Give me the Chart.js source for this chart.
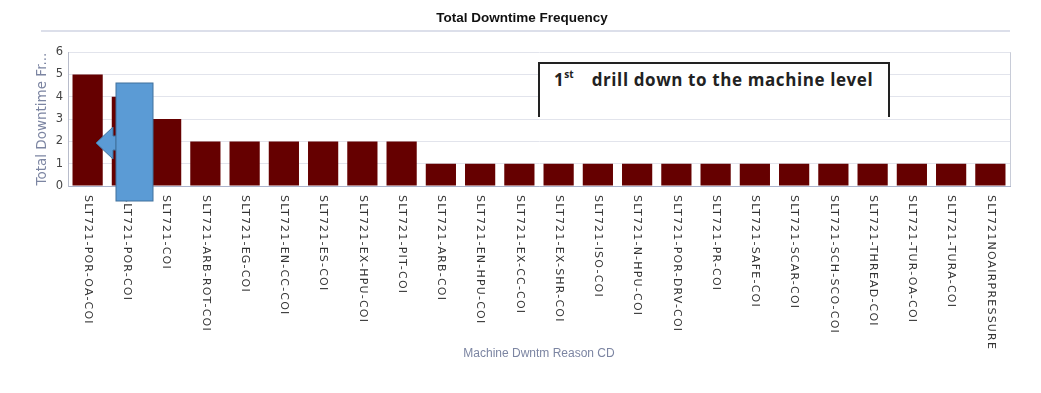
<!DOCTYPE html>
<html>
<head>
<meta charset="utf-8">
<script src="https://cdn.jsdelivr.net/npm/chart.js@4.4.1/dist/chart.umd.min.js"></script>
<style>
    body { margin: 0; background: #fff; }
    #wrap { position: relative; width: 1041px; height: 393px; }
    #rule { position: absolute; left: 41px; top: 30px; width: 969px; height: 2px; background: #dcdfea; }
    #note {
        position: absolute; left: 538px; top: 62px; width: 352px; height: 55px;
        border: 2px solid #222; border-bottom: none; background: #fff;
        font: bold 17px "Open Sans", sans-serif; color: #222;
        box-sizing: border-box; padding: 4px 0 0 14px; letter-spacing: 0.6px;
    }
    #note sup { font-size: 10px; position: relative; top: -1px; margin-right: 18px; letter-spacing: 0; }
    #arrow { position: absolute; left: 0; top: 0; }
</style>
</head>
<body>
<div id="wrap">
    <canvas id="chart" width="1041" height="393"></canvas>
    <div id="rule"></div>
    <div id="note">1<sup>st</sup>drill down to the machine level</div>
    <svg id="arrow" width="1041" height="393">
        <polygon points="116,136 113,136 113,127 96,143 113,159 113,150 116,150"
                 fill="#5b9bd5" stroke="#41719c" stroke-width="1"/>
        <rect x="116" y="83" width="37" height="118" fill="#5b9bd5" stroke="#41719c" stroke-width="1"/>
    </svg>
</div>
<script>
var categories = [
    'SLT721-POR-OA-COI', 'SLT721-POR-COI', 'SLT721-COI', 'SLT721-ARB-ROT-COI',
    'SLT721-EG-COI', 'SLT721-EN-CC-COI', 'SLT721-ES-COI', 'SLT721-EX-HPU-COI',
    'SLT721-PIT-COI', 'SLT721-ARB-COI', 'SLT721-EN-HPU-COI', 'SLT721-EX-CC-COI',
    'SLT721-EX-SHR-COI', 'SLT721-ISO-COI', 'SLT721-N-HPU-COI', 'SLT721-POR-DRV-COI',
    'SLT721-PR-COI', 'SLT721-SAFE-COI', 'SLT721-SCAR-COI', 'SLT721-SCH-SCO-COI',
    'SLT721-THREAD-COI', 'SLT721-TUR-OA-COI', 'SLT721-TURA-COI', 'SLT721NOAIRPRESSURE'
];
var downtimeCounts = [5, 4, 3, 2, 2, 2, 2, 2, 2, 1, 1, 1, 1, 1, 1, 1, 1, 1, 1, 1, 1, 1, 1, 1];
var yTicks = [0, 1, 2, 3, 4, 5, 6];

// x labels read top-to-bottom, so draw them ourselves at the scale's tick positions
var downLabels = {
    id: 'downLabels',
    afterDraw: function(chart) {
        var ctx = chart.ctx;
        var xs = chart.scales.x;
        var area = chart.chartArea;
        ctx.save();
        ctx.font = '11px "DejaVu Sans", sans-serif';
        ctx.fillStyle = '#333';
        ctx.textAlign = 'left';
        ctx.textBaseline = 'middle';
        ctx.letterSpacing = '1.2px';
        categories.forEach(function(label, i) {
            ctx.save();
            ctx.translate(xs.getPixelForTick(i), area.bottom + 9);
            ctx.rotate(Math.PI / 2);
            ctx.fillText(label, 0, 0);
            ctx.restore();
        });
        // right border of plot
        ctx.strokeStyle = '#c8ccd8';
        ctx.lineWidth = 1;
        ctx.beginPath();
        ctx.moveTo(area.right + 0.5, area.top);
        ctx.lineTo(area.right + 0.5, area.bottom);
        ctx.stroke();
        ctx.restore();
    }
};

var chart = new Chart(document.getElementById('chart'), {
    type: 'bar',
    data: {
        labels: categories,
        datasets: [{
            label: 'Total Downtime Frequency',
            data: downtimeCounts,
            backgroundColor: '#650000',
            categoryPercentage: 1,
            barPercentage: 0.77
        }]
    },
    options: {
        responsive: false,
        animation: false,
        layout: { padding: { top: 0, right: 31, bottom: 28, left: 34 } },
        plugins: {
            legend: { display: false },
            tooltip: { enabled: false },
            title: {
                display: true,
                text: 'Total Downtime Frequency',
                color: '#111',
                font: { family: '"Liberation Sans", sans-serif', size: 13.5, weight: 'bold' },
                padding: { top: 10, bottom: 26 }
            }
        },
        scales: {
            x: {
                grid: { display: false },
                border: { color: '#aab3cc' },
                ticks: { display: false },
                title: {
                    display: true,
                    text: 'Machine Dwntm Reason CD',
                    color: '#7c85a2',
                    font: { family: '"Liberation Sans", sans-serif', size: 12 },
                    padding: { top: 0, bottom: 4 }
                },
                afterFit: function(scale) { scale.height = 179; }
            },
            y: {
                min: 0,
                max: 6,
                afterBuildTicks: function(scale) {
                    scale.ticks = yTicks.map(function(v) { return { value: v }; });
                },
                grid: { color: '#e2e4ec', drawTicks: false },
                border: { color: '#b8bccb' },
                ticks: {
                    color: '#444',
                    padding: 5,
                    font: { family: '"DejaVu Sans", sans-serif', size: 11.5 }
                },
                title: {
                    display: true,
                    text: 'Total Downtime Fr...',
                    color: '#7c85a2',
                    font: { family: '"DejaVu Sans", sans-serif', size: 13.5 },
                    padding: { top: 0, bottom: 0 }
                },
                afterFit: function(scale) { scale.width = 34; }
            }
        }
    },
    plugins: [downLabels]
});
</script>
</body>
</html>
